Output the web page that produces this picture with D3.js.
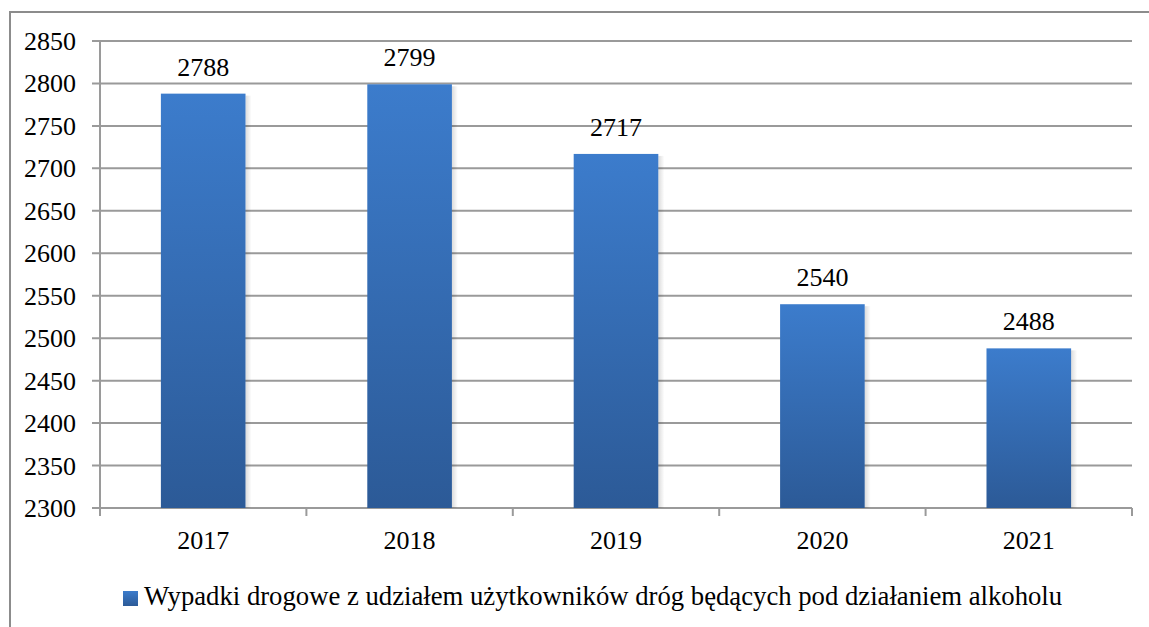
<!DOCTYPE html>
<html>
<head>
<meta charset="utf-8">
<script src="https://cdn.jsdelivr.net/npm/d3@7"></script>
<style>
  svg, svg text { font-family: "Liberation Serif", "Times New Roman", Tinos, FreeSerif; }
</style>
</head>
<body style="margin:0">
<script>
const years = ["2017", "2018", "2019", "2020", "2021"];
const values = [2788, 2799, 2717, 2540, 2488];
const yTicks = [2300, 2350, 2400, 2450, 2500, 2550, 2600, 2650, 2700, 2750, 2800, 2850];
const seriesName = "Wypadki drogowe z udziałem użytkowników dróg będących pod działaniem alkoholu";

const FONT = '"Liberation Serif", "Times New Roman", Tinos, FreeSerif';

const width = 1149;
const height = 627;
const margin = { top: 41, left: 100, bottom: 119, right: 17 };

const svg = d3.select("body").append("svg")
  .attr("width", width)
  .attr("height", height)
  .style("font-family", FONT);

const defs = svg.append("defs");
const grad = defs.append("linearGradient")
  .attr("id", "barGrad")
  .attr("x1", 0).attr("y1", 0).attr("x2", 0).attr("y2", 1);
grad.append("stop").attr("offset", "0%").attr("stop-color", "#3c7ccc");
grad.append("stop").attr("offset", "100%").attr("stop-color", "#2c5a97");

const shade = defs.append("linearGradient")
  .attr("id", "shadeGrad")
  .attr("x1", 0).attr("y1", 0).attr("x2", 1).attr("y2", 0);
shade.append("stop").attr("offset", "0%").attr("stop-color", "#000").attr("stop-opacity", 0.14);
shade.append("stop").attr("offset", "100%").attr("stop-color", "#000").attr("stop-opacity", 0);

// outer frame (runs off the right and bottom edges)
svg.append("rect")
  .attr("x", 10).attr("y", 12)
  .attr("width", width + 20).attr("height", height + 20)
  .attr("fill", "none")
  .attr("stroke", "#8c8c8c")
  .attr("stroke-width", 2);

const x = d3.scaleBand()
  .domain(years)
  .range([margin.left, width - margin.right])
  .paddingInner(0.59)
  .paddingOuter(0.295);

const xTicks = d3.scaleLinear().domain([0, years.length]).range([margin.left, width - margin.right]);

const y = d3.scaleLinear()
  .domain([2300, 2850])
  .range([height - margin.bottom, margin.top]);

const base = y(2300);

// gridlines
svg.selectAll("line.grid")
  .data(yTicks)
  .enter()
  .append("line")
  .attr("class", "grid")
  .attr("x1", margin.left - 8)
  .attr("x2", width - margin.right)
  .attr("y1", (d) => y(d))
  .attr("y2", (d) => y(d))
  .attr("stroke", "#9a9a9a")
  .attr("stroke-width", 2);

// y axis line
svg.append("line")
  .attr("x1", margin.left).attr("x2", margin.left)
  .attr("y1", margin.top).attr("y2", base + 8)
  .attr("stroke", "#9a9a9a")
  .attr("stroke-width", 2);

// x category ticks
svg.selectAll("line.xtick")
  .data(d3.range(years.length + 1))
  .enter()
  .append("line")
  .attr("class", "xtick")
  .attr("x1", (d) => xTicks(d))
  .attr("x2", (d) => xTicks(d))
  .attr("y1", base)
  .attr("y2", base + 8)
  .attr("stroke", "#9a9a9a")
  .attr("stroke-width", 2);

// soft shadow to the right of each bar
svg.selectAll("rect.shade")
  .data(values)
  .enter()
  .append("rect")
  .attr("class", "shade")
  .attr("x", (d, i) => x(years[i]) + x.bandwidth())
  .attr("y", (d) => y(d) + 2)
  .attr("width", 6)
  .attr("height", (d) => base - y(d) - 2)
  .attr("fill", "url(#shadeGrad)");

// bars
svg.selectAll("rect.bar")
  .data(values)
  .enter()
  .append("rect")
  .attr("class", "bar")
  .attr("x", (d, i) => x(years[i]))
  .attr("y", (d) => y(d))
  .attr("width", x.bandwidth())
  .attr("height", (d) => base - y(d))
  .attr("fill", "url(#barGrad)");

// value labels
svg.selectAll("text.val")
  .data(values)
  .enter()
  .append("text")
  .attr("class", "val")
  .attr("x", (d, i) => x(years[i]) + x.bandwidth() / 2)
  .attr("y", (d) => y(d) - 18)
  .attr("text-anchor", "middle")
  .attr("font-size", 26)
  .style("font-family", FONT)
  .text((d) => d);

// y tick labels
svg.selectAll("text.ylab")
  .data(yTicks)
  .enter()
  .append("text")
  .attr("class", "ylab")
  .attr("x", margin.left - 24)
  .attr("y", (d) => y(d) + 9)
  .attr("text-anchor", "end")
  .attr("font-size", 26)
  .style("font-family", FONT)
  .text((d) => d);

// x tick labels
svg.selectAll("text.xlab")
  .data(years)
  .enter()
  .append("text")
  .attr("class", "xlab")
  .attr("x", (d) => x(d) + x.bandwidth() / 2)
  .attr("y", base + 41)
  .attr("text-anchor", "middle")
  .attr("font-size", 26)
  .style("font-family", FONT)
  .text((d) => d);

// legend
svg.append("rect")
  .attr("x", 123).attr("y", 591)
  .attr("width", 15).attr("height", 15)
  .attr("fill", "url(#barGrad)");
svg.append("text")
  .attr("x", 144)
  .attr("y", 605)
  .attr("font-size", 26.7)
  .style("font-family", FONT)
  .text(seriesName);
</script>
</body>
</html>
